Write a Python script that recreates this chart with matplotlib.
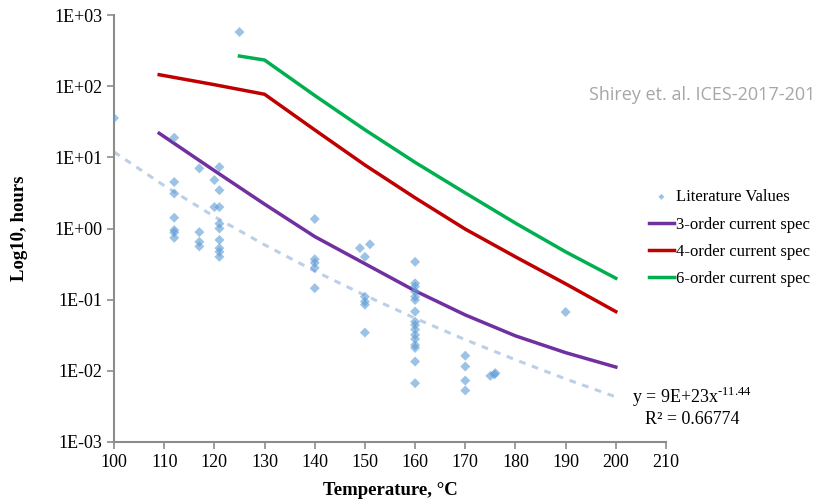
import matplotlib.pyplot as plt
import numpy as np

# literature data points (temperature in C, hours)
lit_temp = [100, 125,
            112, 112, 112, 112, 112, 112, 112,
            117, 117, 117, 117,
            120, 120,
            121, 121, 121, 121, 121, 121, 121, 121, 121,
            140, 140, 140, 140, 140,
            149, 151, 150, 150, 150, 150, 150,
            160, 160, 160, 160, 160, 160, 160, 160, 160, 160, 160, 160, 160, 160, 160, 160,
            170, 170, 170, 170,
            175, 176, 175.8,
            190]
lit_hours = [35.7, 577,
             18.9, 4.5, 3.1, 1.42, 0.95, 0.88, 0.74,
             7.0, 0.89, 0.65, 0.56,
             4.8, 2.0,
             7.3, 3.45, 2.0, 1.17, 1.0, 0.69, 0.53, 0.47, 0.40,
             1.36, 0.37, 0.33, 0.28, 0.145,
             0.53, 0.60, 0.40, 0.11, 0.094, 0.085, 0.0345,
             0.34, 0.17, 0.153, 0.13, 0.11, 0.099, 0.068, 0.049, 0.044, 0.038, 0.032, 0.028, 0.023, 0.021, 0.0135, 0.0067,
             0.0163, 0.0115, 0.0073, 0.0053,
             0.0085, 0.0093, 0.0089,
             0.067]

spec3_temp = [109, 120, 130, 140, 150, 160, 170, 180, 190, 200]
spec3_hours = [21.8, 6.5, 2.2, 0.77, 0.32, 0.133, 0.061, 0.031, 0.018, 0.0113]

spec4_temp = [109, 120, 130, 140, 150, 160, 170, 180, 190, 200]
spec4_hours = [145, 105, 77, 24.3, 7.8, 2.7, 0.98, 0.40, 0.167, 0.068]

spec6_temp = [125, 130, 140, 150, 160, 170, 180, 190, 200]
spec6_hours = [265, 233, 74, 24.4, 8.5, 3.16, 1.19, 0.47, 0.2]

# power-law trendline
trend_temp = [100, 110, 120, 130, 140, 150, 160, 170, 180, 190, 200]
trend_hours = [11.9, 4.0, 1.47, 0.59, 0.252, 0.115, 0.0548, 0.0274, 0.0143, 0.0077, 0.0043]

plt.rcParams['font.family'] = ['Liberation Serif', 'DejaVu Serif']

fig = plt.figure(figsize=(8.21, 5.01), dpi=100)
ax = fig.add_axes([0.1389, 0.1178, 0.8112 - 0.1389, 0.970 - 0.1178])

ax.plot(trend_temp, trend_hours, color='#bccfe9', lw=2.2, ls=(0, (2.2, 2.2)), zorder=1)
ax.scatter(lit_temp, lit_hours, marker='D', s=26, color='#5b9bd5', alpha=0.6,
           edgecolors='none', label='Literature Values', zorder=3)
ax.plot(spec3_temp, spec3_hours, color='#7030a0', lw=2.5, label='3-order current spec', zorder=2)
ax.plot(spec4_temp, spec4_hours, color='#c00000', lw=2.5, label='4-order current spec', zorder=2)
ax.plot(spec6_temp, spec6_hours, color='#00b050', lw=2.5, label='6-order current spec', zorder=2)

ax.set_yscale('log')
ax.set_xlim(100, 210)
ax.set_ylim(1e-3, 1e3)
ax.set_xticks(np.arange(100, 211, 10))
ax.set_yticks([1e-3, 1e-2, 1e-1, 1e0, 1e1, 1e2, 1e3])
ax.set_yticklabels(['1E-03', '1E-02', '1E-01', '1E+00', '1E+01', '1E+02', '1E+03'])
ax.yaxis.set_minor_locator(plt.NullLocator())

for s in ['top', 'right']:
    ax.spines[s].set_visible(False)
for s in ['left', 'bottom']:
    ax.spines[s].set_color('#8c8c8c')
    ax.spines[s].set_linewidth(1.5)
ax.tick_params(direction='out', length=5, width=1.2, color='#8c8c8c', labelsize=13, labelcolor='black')

ax.set_xlabel('Temperature, \u00b0C', fontsize=13.5, fontweight='bold')
ax.set_ylabel('Log10, hours', fontsize=13.5, fontweight='bold')
ax.xaxis.set_label_coords(0.5, -0.094)
ax.yaxis.set_label_coords(-0.155, 0.5)

ax.legend(loc='upper left', bbox_to_anchor=(0.969, 0.592), frameon=False, fontsize=12,
          handlelength=1.5, handletextpad=0.1, labelspacing=0.68, markerscale=0.6,
          borderpad=0, borderaxespad=0)

# trendline equation
fig.text(632 / 821, 1 - 397 / 501, 'y = 9E+23x$^{\\mathregular{\u201011.44}}$', fontsize=13,
         va='center', ha='left')
fig.text(645 / 821, 1 - 419 / 501, 'R\u00b2 = 0.66774', fontsize=13, va='center', ha='left')

fig.text(815 / 821, 1 - 95 / 501, 'Shirey et. al. ICES-2017-201', fontsize=13,
         family='Open Sans', color='#a6a6a6', ha='right', va='center')

plt.savefig('out.png', dpi=100)
